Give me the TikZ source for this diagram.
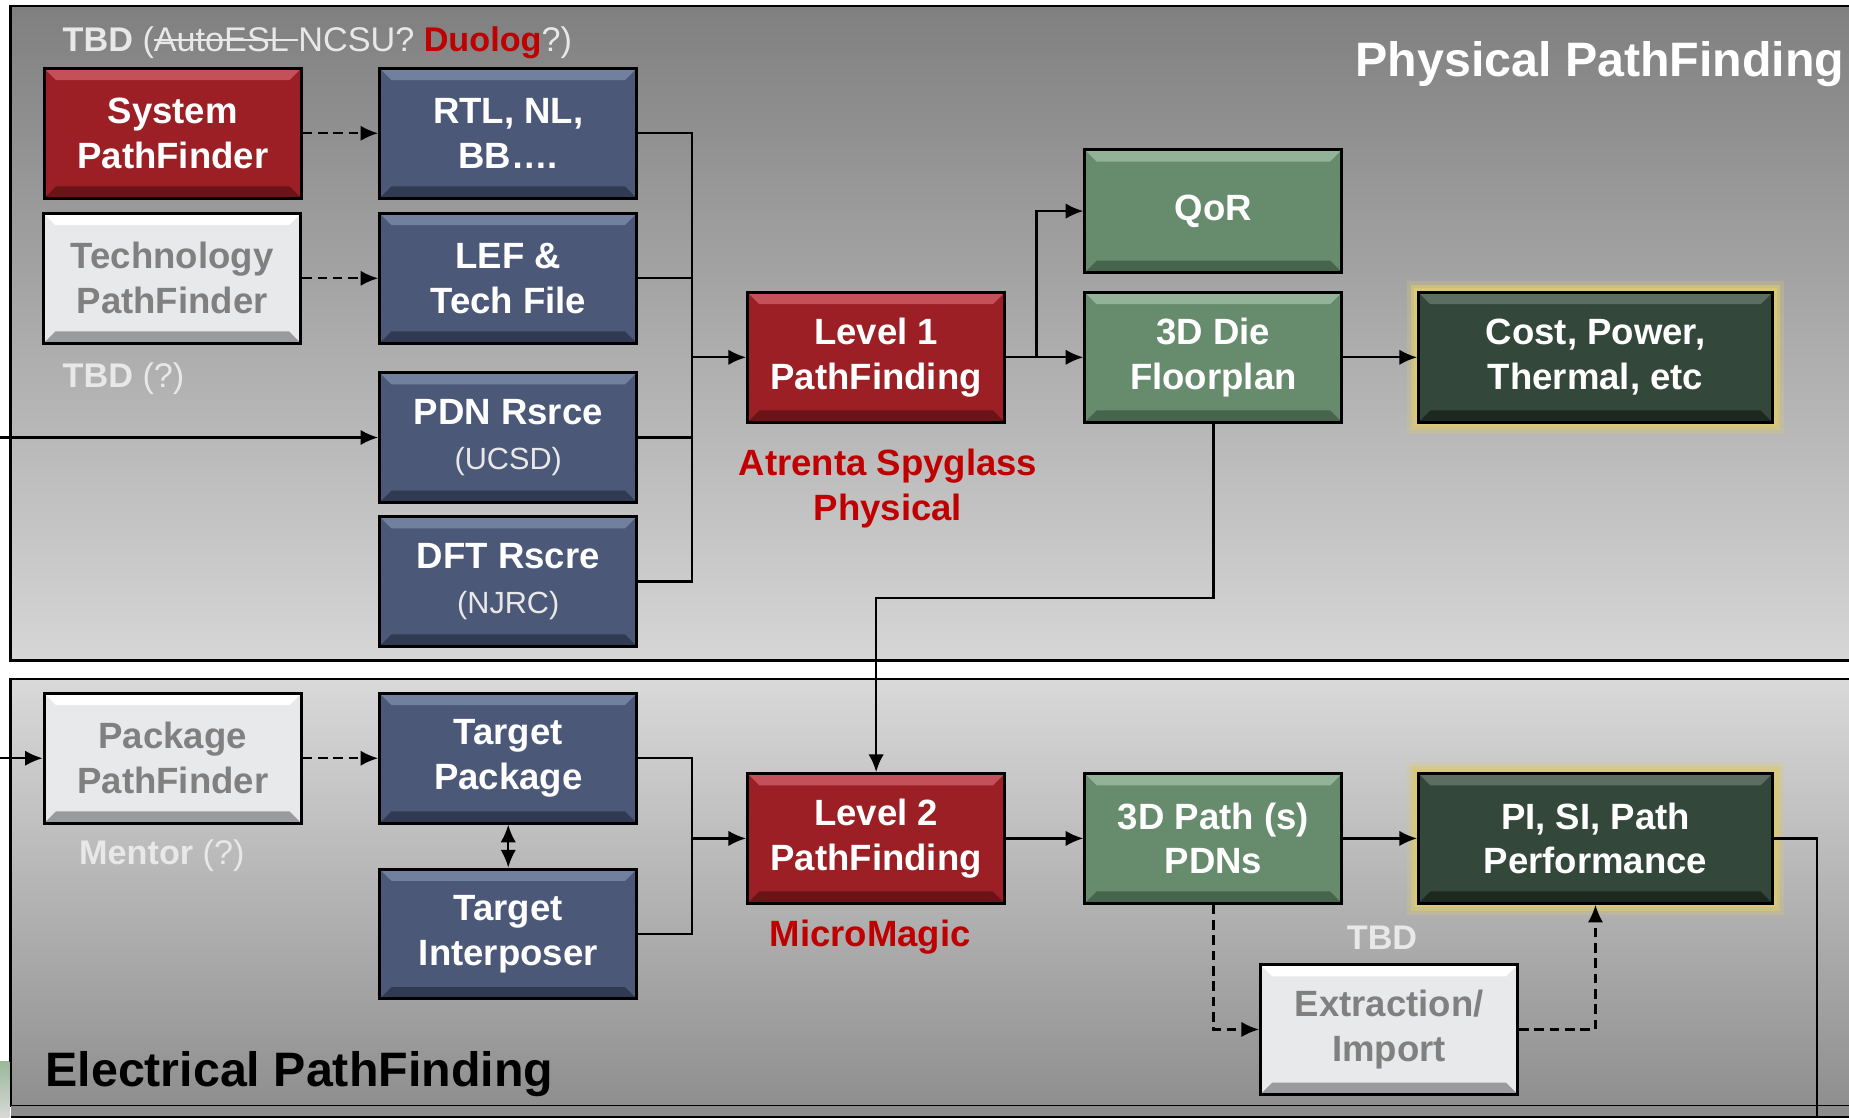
\documentclass[tikz,border=0pt]{standalone}
\usepackage{fontspec}
\setmainfont{Liberation Sans}
\usetikzlibrary{arrows.meta}

\definecolor{pfred}{HTML}{9B1F24}
\definecolor{pfredhi}{HTML}{C4505A}
\definecolor{pfredlo}{HTML}{6A1418}
\definecolor{pfblue}{HTML}{4C5877}
\definecolor{pfbluehi}{HTML}{72809F}
\definecolor{pfbluelo}{HTML}{303A52}
\definecolor{pfgreen}{HTML}{678B6D}
\definecolor{pfgreenhi}{HTML}{93B398}
\definecolor{pfgreenlo}{HTML}{46654C}
\definecolor{pfdark}{HTML}{33473A}
\definecolor{pfdarkhi}{HTML}{5C6E61}
\definecolor{pfdarklo}{HTML}{1C2820}
\definecolor{pfgrey}{HTML}{E8E9EB}
\definecolor{pfgreyhi}{HTML}{FFFFFF}
\definecolor{pfgreylo}{HTML}{9A9B9D}
\definecolor{pfglow}{HTML}{D8C878}
\definecolor{pfnote}{HTML}{C00000}
\definecolor{pflight}{HTML}{E8E8E8}

\newcommand{\pfboxfont}{\fontsize{31}{38}\selectfont\bfseries}
\newcommand{\pfsubfont}{\fontsize{26}{32}\selectfont\mdseries}
\newcommand{\pftitlefont}{\fontsize{41}{48}\selectfont\bfseries}
\newcommand{\pfnotefont}{\fontsize{29}{35}\selectfont}
\newsavebox{\pfstrikebox}
\newcommand{\pfstrike}[1]{\sbox{\pfstrikebox}{#1}\rlap{\raisebox{0.3em}{\rule{\wd\pfstrikebox}{0.06em}}}\usebox{\pfstrikebox}}

\tikzset{
  bevel/.style 2 args={path picture={
    \fill[#1] (path picture bounding box.north west) -- (path picture bounding box.north east)
      -- ([shift={(-10pt,-10pt)}]path picture bounding box.north east)
      -- ([shift={(10pt,-10pt)}]path picture bounding box.north west) -- cycle;
    \fill[#2] (path picture bounding box.south west) -- (path picture bounding box.south east)
      -- ([shift={(-10pt,10pt)}]path picture bounding box.south east)
      -- ([shift={(10pt,10pt)}]path picture bounding box.south west) -- cycle;
  }}
}

\tikzstyle{pfbox} = [rectangle, draw=black, line width=2.5pt, minimum width=218pt, minimum height=110pt, inner sep=0pt, align=center, text=white, font=\pfboxfont]
\tikzstyle{redbox} = [pfbox, fill=pfred, bevel={pfredhi}{pfredlo}]
\tikzstyle{bluebox} = [pfbox, fill=pfblue, bevel={pfbluehi}{pfbluelo}]
\tikzstyle{greenbox} = [pfbox, fill=pfgreen, bevel={pfgreenhi}{pfgreenlo}]
\tikzstyle{resultbox} = [pfbox, minimum width=300pt, fill=pfdark, bevel={pfdarkhi}{pfdarklo},
  preaction={draw=pfglow, line width=20pt, opacity=0.3, rounded corners=6pt},
  preaction={draw=pfglow, line width=13pt, opacity=0.6, rounded corners=3pt},
  preaction={draw=pfglow, line width=7pt}]
\tikzstyle{greybox} = [pfbox, fill=pfgrey, text=black!50, bevel={pfgreyhi}{pfgreylo}]
\tikzstyle{panel} = [draw=black, line width=2pt]
\tikzstyle{line} = [line width=2pt]
\tikzstyle{arrow} = [line width=2pt, -{Latex[length=15pt, width=13pt]}]
\tikzstyle{dasharrow} = [arrow, dash pattern=on 8pt off 5pt]

\begin{document}
\begin{tikzpicture}[x=1pt, y=-1pt]
\useasboundingbox (0,0) rectangle (1568,948);
\clip (0,0) rectangle (1568,948);
\fill[white] (0,0) rectangle (1568,948);

% the two panels
\shade[panel, top color=black!50, bottom color=black!16] (9,5) rectangle (1590,560);
\shade[panel, top color=black!15, bottom color=black!44] (9,576) rectangle (1590,938);
\fill[black!45] (9,938) rectangle (1590,960);
\draw[panel] (9,947) -- (1590,947);
\shade[top color=green!30!black!40, bottom color=black!15] (0,900) rectangle (8,948);

% physical pathfinding
\node (sys) [redbox] at (146.5,113) {System\\PathFinder};
\node (rtl) [bluebox] at (431,113) {RTL, NL,\\BB….};
\node (tech) [greybox] at (146,236) {Technology\\PathFinder};
\node (lef) [bluebox] at (431,236) {LEF \&\\Tech File};
\node (pdn) [bluebox] at (431,371) {PDN Rsrce\\{\pfsubfont\color{pflight}(UCSD)}};
\node (dft) [bluebox] at (431,493) {DFT Rscre\\{\pfsubfont\color{pflight}(NJRC)}};
\node (lvl1) [redbox] at (743,303) {Level 1\\PathFinding};
\node (qor) [greenbox, minimum height=104pt] at (1029,179) {QoR};
\node (die) [greenbox] at (1029,303) {3D Die\\Floorplan};
\node (cost) [resultbox] at (1353,303) {Cost, Power,\\Thermal, etc};

\node (physt) [anchor=west, text=white, font=\pftitlefont] at (1146,54) {Physical PathFinding};
\node (tbda) [anchor=west, text=pflight, font=\pfnotefont, inner sep=0pt] at (53,36)
  {\textbf{TBD} (\pfstrike{AutoESL\ }NCSU? \textbf{\color{pfnote}Duolog}?)};
\node (tbdb) [anchor=west, text=pflight, font=\pfnotefont, inner sep=0pt] at (53,321) {\textbf{TBD} (?)};
\node (atrenta) [text=pfnote, font=\pfboxfont, align=center] at (753,414) {Atrenta Spyglass\\Physical};

% electrical pathfinding
\node (pkg) [greybox] at (146.5,643) {Package\\PathFinder};
\node (tpkg) [bluebox] at (431,643) {Target\\Package};
\node (tint) [bluebox] at (431,792) {Target\\Interposer};
\node (lvl2) [redbox] at (743,711) {Level 2\\PathFinding};
\node (path3d) [greenbox] at (1029,711) {3D Path (s)\\PDNs};
\node (pisi) [resultbox] at (1353,711) {PI, SI, Path\\Performance};
\node (extr) [greybox] at (1178,873) {Extraction/\\Import};

\node (elect) [anchor=west, text=black, font=\pftitlefont] at (35,911) {Electrical PathFinding};
\node (mentor) [anchor=west, text=pflight, font=\pfnotefont, inner sep=0pt] at (67,726) {\textbf{Mentor} (?)};
\node (micro) [text=pfnote, font=\pfboxfont] at (738,795) {MicroMagic};
\node (tbdc) [text=pflight, font=\pfnotefont\bfseries] at (1172,795) {TBD};

% connectors
\coordinate (busa) at (587,303);
\coordinate (split) at (879,303);
\coordinate (turn) at (1029,507);
\coordinate (ina) at (0,371);
\coordinate (inb) at (0,643);
\coordinate (busb) at (587,711);
\coordinate (outa) at (1541,960);

\draw [dasharrow] (sys) -- (rtl);
\draw [dasharrow] (tech) -- (lef);
\draw [line] (rtl.east) -| (busa);
\draw [line] (lef.east) -| (busa);
\draw [line] (pdn.east) -| (busa);
\draw [line] (dft.east) -| (busa);
\draw [arrow] (busa) -- (lvl1);
\draw [arrow] (ina) -- (pdn);
\draw [arrow] (lvl1) -- (die);
\draw [arrow] (split) |- (qor);
\draw [arrow] (die) -- (cost);
\draw [arrow] (die.south) -- (turn) -| (lvl2.north);

\draw [arrow] (inb) -- (pkg);
\draw [dasharrow] (pkg) -- (tpkg);
\draw [arrow, {Latex[length=15pt, width=13pt]}-{Latex[length=15pt, width=13pt]}] (tpkg) -- (tint);
\draw [line] (tpkg.east) -| (busb);
\draw [line] (tint.east) -| (busb);
\draw [arrow] (busb) -- (lvl2);
\draw [arrow] (lvl2) -- (path3d);
\draw [arrow] (path3d) -- (pisi);
\draw [dasharrow] (path3d.south) |- (extr);
\draw [dasharrow] (extr) -| (pisi.south);
\draw [line] (pisi.east) -| (outa);
\end{tikzpicture}
\end{document}
